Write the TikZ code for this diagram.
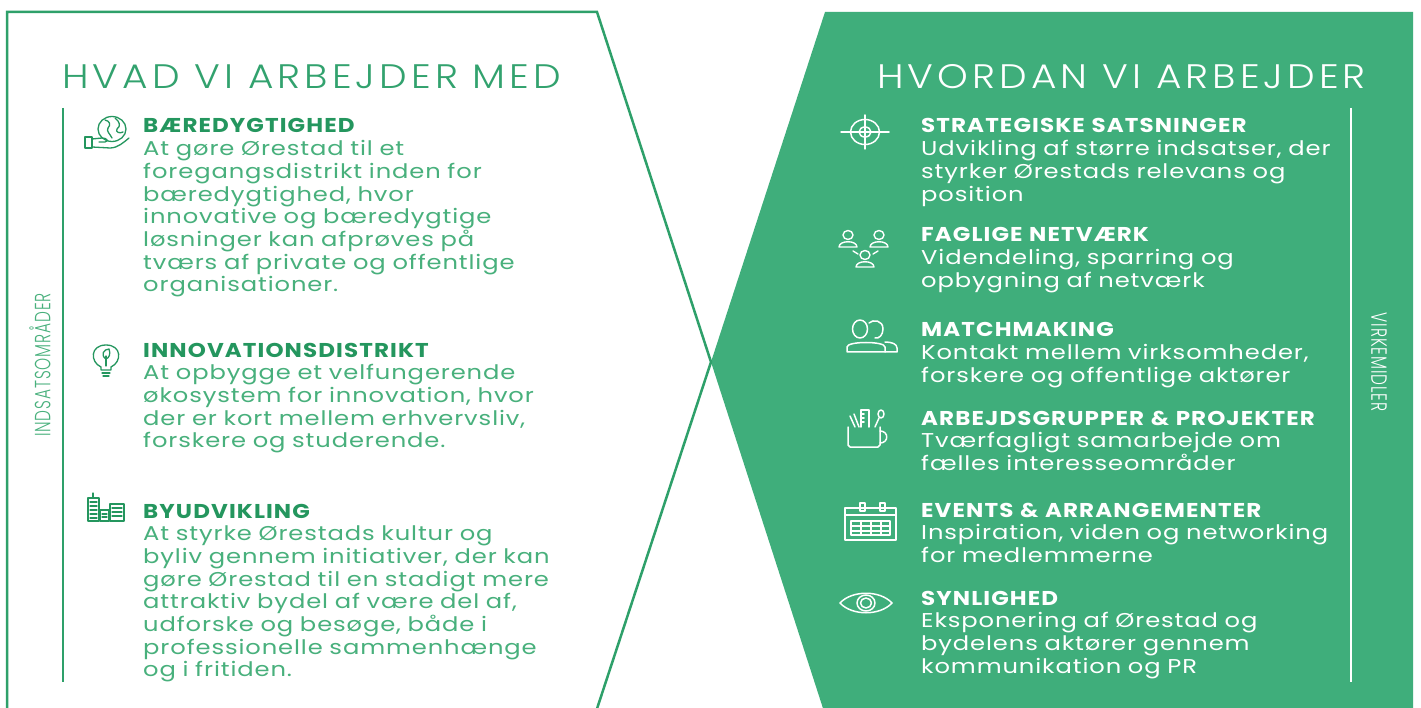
\documentclass[tikz,border=0pt]{standalone}
\usepackage{fontspec}
\setmainfont{Poppins}[FakeStretch=1.15]
\newfontfamily\bodyfont{Poppins}[FakeStretch=1.21,LetterSpace=4.5]
\newfontfamily\titlefont{Poppins}[FakeStretch=1.15,LetterSpace=5.5]
\newfontfamily\headfont{Poppins Light}[FakeStretch=1.15,LetterSpace=12]
\newfontfamily\sidefont{Poppins Light}[FakeStretch=0.7,LetterSpace=4]
\usetikzlibrary{positioning,calc}
\definecolor{gfill}{RGB}{63,174,123}
\definecolor{gline}{RGB}{46,160,106}
\definecolor{gtext}{RGB}{72,176,124}
\definecolor{gtitle}{RGB}{36,150,94}
\definecolor{ghead}{RGB}{50,162,110}
\newcommand\itemhead[2][.]{{\color{#1}\titlefont\bfseries\fontsize{20}{22.7}\selectfont #2}}

\begin{document}
\begin{tikzpicture}[x=1pt,y=-1pt,
    heading/.style={anchor=base west,inner sep=0pt,font=\headfont\fontsize{34}{36}\selectfont},
    item/.style={anchor=base west,inner sep=0pt,text width=480pt,align=left,
      font=\bodyfont\fontsize{20}{22.7}\selectfont},
    side/.style={inner sep=0pt,font=\sidefont\fontsize{22}{24}\selectfont},
    icon/.style={line width=1.5pt,line cap=round,line join=round}]
  \useasboundingbox (0,0) rectangle (1421,708);
  \fill[white] (0,0) rectangle (1421,708);
  % the two halves
  \fill[gfill] (825,12) -- (1413,12) -- (1413,730) -- (830,730) -- (711,362) -- cycle;
  \draw[gline,line width=2.5pt] (7,730) -- (7,12) -- (597,12) -- (711,362) -- (590,730);
  \draw[gline,line width=1.6pt] (63,108) -- (63,682);
  \draw[white,line width=1.6pt] (1351,108) -- (1351,682);
  \node[side,gtext,rotate=90] (indsats) at (40,365) {INDSATSOMRÅDER};
  \node[side,white,rotate=-90] (virke) at (1379,362) {VIRKEMIDLER};
  \node[heading,ghead] (hvad) at (62,89) {HVAD VI ARBEJDER MED};
  \node[heading,white] (hvordan) at (877,89) {HVORDAN VI ARBEJDER};
  % left column
  \node[item,gtext] (baered) at (143,133) {\itemhead[gtitle]{BÆREDYGTIGHED}\\At gøre Ørestad til et\\foregangsdistrikt inden for\\bæredygtighed, hvor\\innovative og bæredygtige\\løsninger kan afprøves på\\tværs af private og offentlige\\organisationer.};
  \node[item,gtext] (innov) at (143,357) {\itemhead[gtitle]{INNOVATIONSDISTRIKT}\\At opbygge et velfungerende\\økosystem for innovation, hvor\\der er kort mellem erhvervsliv,\\forskere og studerende.};
  \node[item,gtext] (byud) at (143,518) {\itemhead[gtitle]{BYUDVIKLING}\\At styrke Ørestads kultur og\\byliv gennem initiativer, der kan\\gøre Ørestad til en stadigt mere\\attraktiv bydel af være del af,\\udforske og besøge, både i\\professionelle sammenhænge\\og i fritiden.};
  % right column
  \node[item,white] (strat) at (921,133) {\itemhead{STRATEGISKE SATSNINGER}\\Udvikling af større indsatser, der\\styrker Ørestads relevans og\\position};
  \node[item,white] (faglig) at (921,242) {\itemhead{FAGLIGE NETVÆRK}\\Videndeling, sparring og\\opbygning af netværk};
  \node[item,white] (match) at (921,337) {\itemhead{MATCHMAKING}\\Kontakt mellem virksomheder,\\forskere og offentlige aktører};
  \node[item,white] (arbejd) at (921,425) {\itemhead{ARBEJDSGRUPPER \& PROJEKTER}\\Tværfagligt samarbejde om\\fælles interesseområder};
  \node[item,white] (events) at (921,517) {\itemhead{EVENTS \& ARRANGEMENTER}\\Inspiration, viden og networking\\for medlemmerne};
  \node[item,white] (synlig) at (921,605) {\itemhead{SYNLIGHED}\\Eksponering af Ørestad og\\bydelens aktører gennem\\kommunikation og PR};
  % icons, left
  \begin{scope}[shift={(112,130)},icon,gtitle,line width=1.3pt]
    \draw (0,-1) ellipse [x radius=14,y radius=12.5];
    \draw (-7,-10) .. controls (-2,-9) and (-1,-5) .. (-4,-2) .. controls (-6,1) and (-2,4) .. (0,8);
    \draw (3,-12) .. controls (8,-8) and (9,-4) .. (5,-1) .. controls (3,2) and (8,4) .. (11,2);
    \draw (-27,7) rectangle (-20,18);
    \draw (-20,9) -- (-10,8) .. controls (-5,8) and (-3,11) .. (-7,12) -- (-13,12);
    \draw (-20,17) -- (-2,18) .. controls (6,18) and (12,12) .. (17,8);
  \end{scope}
  \begin{scope}[shift={(106,357)},icon,gtitle,line width=1.3pt]
    \draw (-5,10) .. controls (-16,5) and (-16,-12) .. (0,-12) .. controls (16,-12) and (16,5) .. (5,10) -- (5,13) -- (-5,13) -- cycle;
    \draw (-4,16) -- (4,16) (-3,19) -- (3,19);
    \draw (0,9) -- (0,-1);
    \draw (0,2) .. controls (-6,-2) and (-2,-8) .. (3,-8) .. controls (5,-3) and (3,1) .. (0,2);
  \end{scope}
  \begin{scope}[shift={(106,508)},icon,gtitle,line width=1.3pt]
    \draw (-18,-10) rectangle (-7,13) (-13,-15) -- (-13,-10);
    \draw (-6,2) rectangle (3,13) (4,-4) rectangle (18,13);
    \foreach \wy in {-6,-2,2,6,10} \draw (-16,\wy) -- (-9,\wy);
    \foreach \wy in {0,4,8} \draw (6,\wy) -- (16,\wy);
    \draw (-4,6) -- (1,6) (-4,9) -- (1,9);
  \end{scope}
  % icons, right
  \begin{scope}[shift={(865,132)},icon,white]
    \draw (0,0) ellipse [x radius=14.5,y radius=12.5];
    \draw (0,0) ellipse [x radius=6,y radius=5];
    \draw (-24,0) -- (24,0) (0,-17) -- (0,17);
  \end{scope}
  \begin{scope}[shift={(864,240)},icon,white,line width=1.4pt]
    \foreach \px/\py in {-16/-3,15/-3,1/17} {
      \draw (\px,\py-2) ellipse [x radius=5,y radius=4.5];
      \draw (\px-9,\py+10) .. controls (\px-9,\py+3) and (\px+9,\py+3) .. (\px+9,\py+10) -- cycle;
    }
    \draw (-11,11) -- (-6,14) (14,11) -- (9,14);
  \end{scope}
  \begin{scope}[shift={(870,336)},icon,white]
    \draw (-10,-7) ellipse [x radius=7.5,y radius=9];
    \draw (-23,16) -- (-23,11) .. controls (-23,5) and (15,5) .. (15,11) -- (15,16) -- cycle;
    \draw (-1,-13) .. controls (3,-17) and (13,-16) .. (13,-7) .. controls (13,-1) and (9,3) .. (5,2);
    \draw (15,6) .. controls (22,6) and (27,8) .. (27,12) -- (27,16) -- (15,16);
  \end{scope}
  \begin{scope}[shift={(864,428)},icon,white]
    \draw (-16,-1) -- (-16,17) -- (-14,19) -- (14,19) -- (16,17) -- (16,-1);
    \draw (16,3) .. controls (25,3) and (25,15) .. (16,15);
    \draw (-3,-1) -- (-3,-18) -- (5,-18) -- (5,-1);
    \draw (-3,-14) -- (0,-14) (-3,-10) -- (0,-10) (-3,-6) -- (0,-6);
    \draw (-14,-12) -- (-9,-1) (-10,-14) -- (-5,-1);
    \draw (11,-1) -- (15,-10);
    \draw (17,-14) ellipse [x radius=3,y radius=4];
  \end{scope}
  \begin{scope}[shift={(870,524)},icon,white]
    \draw (-25,-16) rectangle (26,16);
    \draw (-25,-9) -- (26,-9);
    \draw (-10,-21) rectangle (-5,-13) (10,-21) rectangle (15,-13);
    \draw (-19,-3) rectangle (20,11);
    \foreach \gx in {-9,1,11} \draw (\gx,-3) -- (\gx,11);
    \draw (-19,2) -- (20,2) (-19,7) -- (20,7);
  \end{scope}
  \begin{scope}[shift={(866,603)},icon,white]
    \draw (-26,0) .. controls (-14,-13) and (14,-13) .. (26,0) .. controls (14,13) and (-14,13) .. (-26,0) -- cycle;
    \draw (0,0) ellipse [x radius=9,y radius=8];
    \draw (0,0) ellipse [x radius=5.5,y radius=5];
  \end{scope}
\end{tikzpicture}
\end{document}
